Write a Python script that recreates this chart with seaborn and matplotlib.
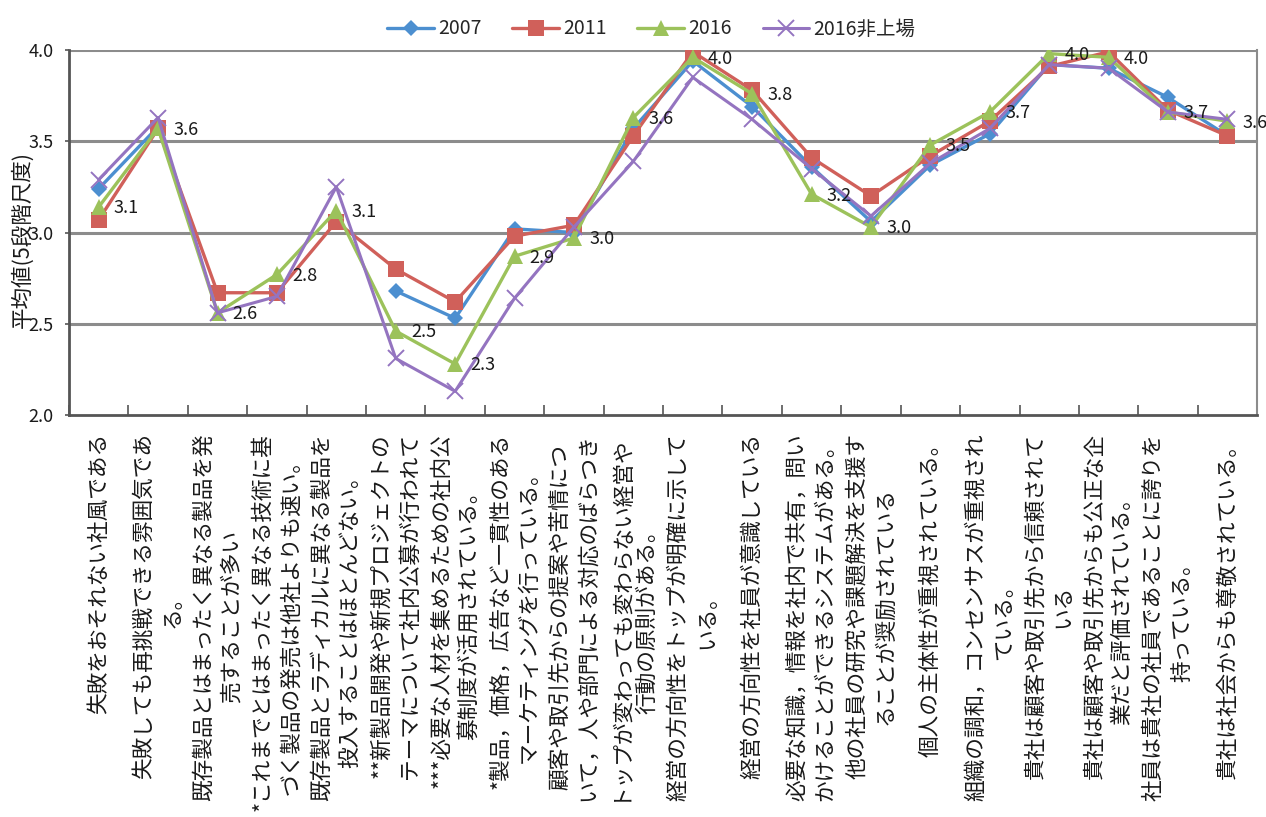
import numpy as np
import pandas as pd
import matplotlib
matplotlib.use("Agg")
import matplotlib.pyplot as plt
import seaborn as sns

# Survey items (each string already wrapped the way it is laid out under the axis)
items = [
    "失敗をおそれない社風である",
    "失敗しても再挑戦できる雰囲気であ\nる。",
    "既存製品とはまったく異なる製品を発\n売することが多い",
    "*これまでとはまったく異なる技術に基\nづく製品の発売は他社よりも速い。",
    "既存製品とラディカルに異なる製品を\n投入することはほとんどない。",
    "**新製品開発や新規プロジェクトの\nテーマについて社内公募が行われて",
    "***必要な人材を集めるための社内公\n募制度が活用されている。",
    "*製品，価格，広告など一貫性のある\nマーケティングを行っている。",
    "顧客や取引先からの提案や苦情につ\nいて，人や部門による対応のばらつき",
    "トップが変わっても変わらない経営や\n行動の原則がある。",
    "経営の方向性をトップが明確に示して\nいる。",
    "経営の方向性を社員が意識している",
    "必要な知識，情報を社内で共有，問い\nかけることができるシステムがある。",
    "他の社員の研究や課題解決を支援す\nることが奨励されている",
    "個人の主体性が重視されている。",
    "組織の調和，コンセンサスが重視され\nている。",
    "貴社は顧客や取引先から信頼されて\nいる",
    "貴社は顧客や取引先からも公正な企\n業だと評価されている。",
    "社員は貴社の社員であることに誇りを\n持っている。",
    "貴社は社会からも尊敬されている。",
]

series_names = ["2007", "2011", "2016", "2016非上場"]

nan = np.nan
score_2007 = [3.24, 3.58, nan, nan, nan, 2.68, 2.53, 3.02, 3.00, 3.57,
              3.94, 3.69, 3.36, 3.06, 3.37, 3.54, 3.92, 3.90, 3.74, 3.53]
score_2011 = [3.07, 3.57, 2.67, 2.67, 3.06, 2.80, 2.62, 2.98, 3.04, 3.53,
              3.99, 3.78, 3.41, 3.20, 3.42, 3.61, 3.91, 3.99, 3.67, 3.53]
score_2016 = [3.14, 3.57, 2.56, 2.77, 3.12, 2.46, 2.28, 2.87, 2.97, 3.63,
              3.96, 3.76, 3.21, 3.03, 3.48, 3.66, 3.98, 3.96, 3.66, 3.61]
score_2016_unlisted = [3.29, 3.63, 2.56, 2.65, 3.25, 2.31, 2.13, 2.64, 3.03, 3.39,
                       3.85, 3.62, 3.35, 3.09, 3.38, 3.57, 3.92, 3.90, 3.66, 3.62]

y_ticks = [2.0, 2.5, 3.0, 3.5, 4.0]
y_label = "平均値(5段階尺度)"
labelled_series = "2016"

scores = [score_2007, score_2011, score_2016, score_2016_unlisted]

# Long-form table; "seg" splits a series wherever a value is missing
frames = []
for name, vals in zip(series_names, scores):
    v = np.asarray(vals, dtype=float)
    seg = np.cumsum(np.isnan(v))
    frames.append(pd.DataFrame({"pos": np.arange(len(items)), "score": v,
                                "survey": name, "seg": seg}))
df = pd.concat(frames, ignore_index=True)

sns.set_theme(style="white")
plt.rcParams["font.family"] = ["Noto Sans CJK JP", "DejaVu Sans"]

styles = {
    "2007":       dict(color="#4C8FD0", marker="D", markersize=8.5, lw=2.4, mew=0),
    "2011":       dict(color="#D0605A", marker="s", markersize=11, lw=2.4, mew=0),
    "2016":       dict(color="#9CC25B", marker="^", markersize=11, lw=2.4, mew=0),
    "2016非上場": dict(color="#9474C0", marker="x", markersize=11, lw=2.2, mew=1.4),
}

fig = plt.figure(figsize=(12.66, 8.17), dpi=100)
ax = fig.add_axes([0.0545, 0.492, 0.9385, 0.4468])

for name in series_names:
    st = styles[name]
    sub = df[(df["survey"] == name)].dropna(subset=["score"])
    sns.lineplot(data=sub, x="pos", y="score", units="seg", estimator=None,
                 sort=False, ax=ax, color=st["color"], linewidth=st["lw"],
                 marker=st["marker"], markersize=st["markersize"],
                 markeredgewidth=st["mew"], markeredgecolor=st["color"],
                 label=name)

# Value labels for the 2016 series
lab_vals = scores[series_names.index(labelled_series)]
for i, v in enumerate(lab_vals):
    ax.annotate(f"{v:.1f}", (i, v), xytext=(11, -1), textcoords="offset points",
                ha="left", va="center", fontsize=13, color="#1a1a1a")

ax.set_xlim(-0.5, len(items) - 0.5)
ax.set_ylim(2.0, 4.0)
ax.set_yticks(y_ticks)
ax.set_yticklabels([f"{t:.1f}" for t in y_ticks], fontsize=13, color="#1a1a1a")
ax.tick_params(axis="y", length=3, width=1.2, color="#555555", pad=8, left=True)

# Category labels at band centres, tick marks at band boundaries
ax.set_xticks(np.arange(len(items)))
ax.set_xticklabels(items, rotation=90, fontsize=15.6, va="top", ha="center",
                   multialignment="center", color="#1a1a1a", linespacing=1.36)
ax.tick_params(axis="x", length=0, pad=13, bottom=True)
ax.set_xticks(np.arange(len(items) + 1) - 0.5, minor=True)
ax.tick_params(axis="x", which="minor", length=7, width=1.2, direction="in",
               color="#555555", bottom=True)

for t in y_ticks[1:]:
    ax.axhline(t, color="#8c8c8c", lw=2.2, zorder=0)

for side in ["left", "bottom"]:
    ax.spines[side].set_color("#555555")
    ax.spines[side].set_linewidth(2.0)
for side in ["top", "right"]:
    ax.spines[side].set_color("#8c8c8c")
    ax.spines[side].set_linewidth(1.5)
ax.spines["top"].set_visible(False)

ax.set_xlabel("")
ax.set_ylabel(y_label, fontsize=15.5, color="#1a1a1a")
ax.yaxis.set_label_coords(-0.030, 0.48)

handles, labels = ax.get_legend_handles_labels()
seen = {}
for h, l in zip(handles, labels):
    seen.setdefault(l, h)
ax.legend([seen[n] for n in series_names], series_names, loc="lower center",
          bbox_to_anchor=(0.49, 1.0), ncol=4, frameon=False, fontsize=14,
          handlelength=2.4, columnspacing=1.6, handletextpad=0.2,
          borderaxespad=0.15)

fig.savefig("out.png", dpi=100)
